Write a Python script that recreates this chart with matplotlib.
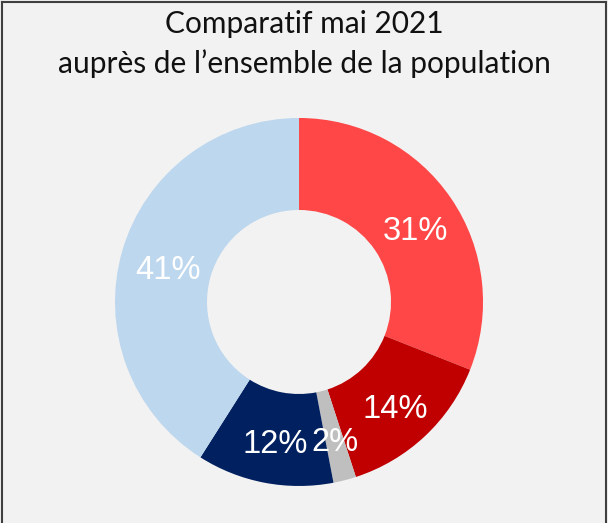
import matplotlib
matplotlib.use("Agg")
import matplotlib.pyplot as plt
from matplotlib.lines import Line2D
from matplotlib.transforms import offset_copy
import numpy as np

# slice data, clockwise from the top
labels = ["31%", "14%", "2%", "12%", "41%"]
values = [31, 14, 2, 12, 41]
colors = ["#FF4747", "#C00000", "#BFBFBF", "#002060", "#BDD7EE"]
title_lines = ["Comparatif mai 2021", "auprès de l\u2019ensemble de la population"]

fig = plt.figure(figsize=(6.08, 5.23), dpi=100)
fig.patch.set_facecolor("#F2F2F2")

# frame on left, top and right (bottom cut off in the original)
for xs, ys in [([0.004, 0.004], [0.0, 0.997]), ([0.004, 0.997], [0.997, 0.997]), ([0.997, 0.997], [0.997, 0.0])]:
    fig.add_artist(Line2D(xs, ys, transform=fig.transFigure, color="#404040", linewidth=1.5))

fig.text(0.5, 1 - 24 / 523, title_lines[0], ha="center", va="center", fontsize=21.5,
         family="Lato", color="#111111")
fig.text(0.5, 1 - 64 / 523, title_lines[1], ha="center", va="center", fontsize=21.5,
         family="Lato", color="#111111")

ax = fig.add_axes([0.1589, 0.0356, 0.6658, 0.774])
ax.set_facecolor("none")
wedges, texts = ax.pie(values, colors=colors, startangle=90, counterclock=False,
                       wedgeprops=dict(width=0.5, edgecolor="none"))
# labels sit a bit below the ring's mid line
lab_tr = offset_copy(ax.transData, fig=fig, x=2, y=-7, units="dots")
for w, lab in zip(wedges, labels):
    ang = np.deg2rad((w.theta1 + w.theta2) / 2)
    ax.text(0.75 * np.cos(ang), 0.75 * np.sin(ang), lab, ha="center", va="center",
            color="white", fontsize=23.5, family="Liberation Sans", transform=lab_tr)
ax.set_xlim(-1.1, 1.1)
ax.set_ylim(-1.1, 1.1)
ax.set_aspect("equal")
ax.axis("off")

fig.savefig("out.png", dpi=100, facecolor=fig.get_facecolor())
